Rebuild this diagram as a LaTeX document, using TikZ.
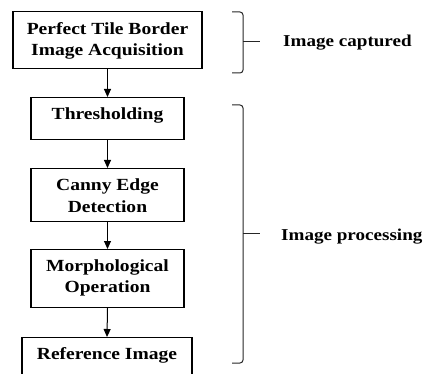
\documentclass[tikz,border=0pt]{standalone}
\usepackage{fontspec}
\setmainfont{Liberation Serif}[FakeStretch=1.15]
\usetikzlibrary{arrows.meta}
\begin{document}
\begin{tikzpicture}[x=1pt,y=-1pt,
  boxframe/.style={draw=black,line width=1.2pt,rectangle,inner sep=0pt,anchor=north},
  boxtext/.style={anchor=north,inner sep=0pt,align=center,font=\fontsize{17}{21.5}\selectfont\bfseries},
  flow/.style={draw=black,line width=1pt,-{Triangle[length=8pt,width=7pt]}},
  brace/.style={draw=black!85,line width=1pt,rounded corners=3pt},
  lbl/.style={anchor=base west,inner sep=0pt,font=\fontsize{16.6}{21}\selectfont\bfseries}]
\useasboundingbox (0,0) rectangle (425,374);
\begin{scope}
\clip (0,0) rectangle (425,374);
\node[boxframe,minimum width=189pt,minimum height=57pt] (b1) at (107.5,11) {};
\node[boxframe,minimum width=153pt,minimum height=42pt] (b2) at (107.5,97) {};
\node[boxframe,minimum width=153pt,minimum height=53pt] (b3) at (107.5,168) {};
\node[boxframe,minimum width=153pt,minimum height=58pt] (b4) at (107.5,249) {};
\node[boxframe,minimum width=170pt,minimum height=44pt] (b5) at (107,337) {};
\end{scope}
\node[boxtext] (t1) at ([yshift=-11pt]b1.north) {Perfect Tile Border\\Image Acquisition};
\node[boxtext] (t2) at ([yshift=-10.5pt]b2.north) {Thresholding};
\node[boxtext] (t3) at ([yshift=-11pt]b3.north) {Canny Edge\\Detection};
\node[boxtext] (t4) at ([yshift=-10.5pt]b4.north) {Morphological\\Operation};
\node[boxtext] (t5) at ([yshift=-10.5pt]b5.north) {Reference Image};
\draw[flow] (b1.south) -- (b2.north);
\draw[flow] (b2.south) -- (b3.north);
\draw[flow] (b3.south) -- (b4.north);
\draw[flow] (b4.south) -- (b5.north);
% braces
\coordinate (br1t) at (232,12);
\coordinate (br1b) at (232,73);
\coordinate (br1m) at (243,42);
\coordinate (br1e) at (260,42);
\draw[brace] (br1t) -- (br1t -| br1m) -- (br1b -| br1m) -- (br1b);
\draw[draw=black!85,line width=1pt] (br1m) -- (br1e);
\coordinate (br2t) at (232,105);
\coordinate (br2b) at (232,363);
\coordinate (br2m) at (243,233);
\coordinate (br2e) at (260,233);
\draw[brace] (br2t) -- (br2t -| br2m) -- (br2b -| br2m) -- (br2b);
\draw[draw=black!85,line width=1pt] (br2m) -- (br2e);
\node[lbl] (l1) at (283,46.5) {Image captured};
\node[lbl] (l2) at (281,240) {Image processing};
\end{tikzpicture}
\end{document}
